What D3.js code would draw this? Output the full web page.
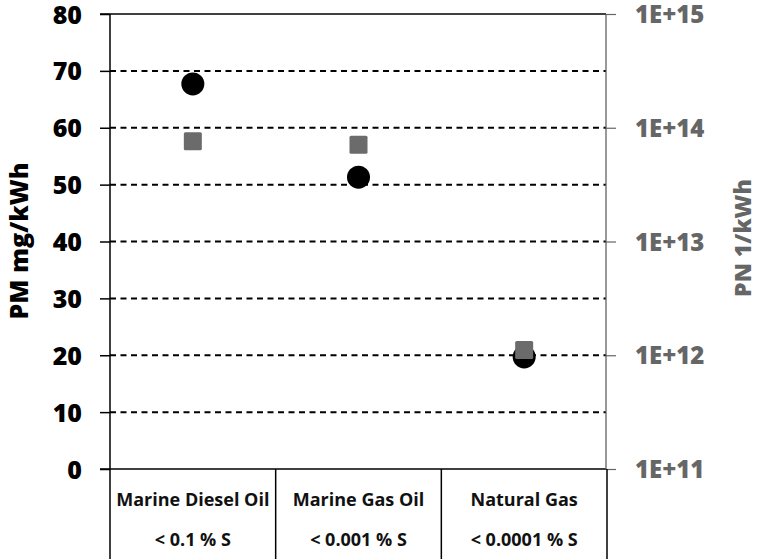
<!DOCTYPE html>
<html>
<head>
<meta charset="utf-8">
<script src="https://d3js.org/d3.v7.min.js"></script>
<style>
  html, body { margin: 0; padding: 0; background: #fff; }
  svg { display: block; font-family: "Open Sans", Lato, sans-serif; font-weight: 800; }
</style>
</head>
<body>
<svg id="chart" width="759" height="559"></svg>
<script>
const categories = ["Marine Diesel Oil", "Marine Gas Oil", "Natural Gas"];
const sulfur = ["< 0.1 % S", "< 0.001 % S", "< 0.0001 % S"];
const pmValues = [67.7, 51.3, 19.7];          // mg/kWh, left axis
const pnValues = [7.6e13, 7.1e13, 1.11e12];   // 1/kWh, right axis (log)
const leftTicks = [0, 10, 20, 30, 40, 50, 60, 70, 80];
const rightTicks = [1e11, 1e12, 1e13, 1e14, 1e15];

const svg = d3.select("#chart");
const L = 110, R = 606, T = 14, B = 469, BOT = 559;
const FONT = "'Open Sans', Lato, sans-serif";

const x = d3.scaleBand().domain(categories).range([L, R + 1]);
const y = d3.scaleLinear().domain([0, 80]).range([B, T]);
const yR = d3.scaleLog().domain([1e11, 1e15]).range([B, T]);

// dashed gridlines
svg.append("g").selectAll("line")
  .data(leftTicks.filter(d => d > 0 && d < 80))
  .join("line")
  .attr("x1", L).attr("x2", R)
  .attr("y1", d => y(d)).attr("y2", d => y(d))
  .attr("stroke", "#000").attr("stroke-width", 2)
  .attr("stroke-dasharray", "6,4.5");

// top border
svg.append("line").attr("x1", L - 10).attr("x2", R).attr("y1", T).attr("y2", T)
  .attr("stroke", "#000").attr("stroke-width", 1.5);
// baseline
svg.append("line").attr("x1", L - 10).attr("x2", R).attr("y1", B).attr("y2", B)
  .attr("stroke", "#000").attr("stroke-width", 1.5);

// left axis
const gL = svg.append("g").attr("transform", `translate(${L},0)`)
  .call(d3.axisLeft(y).tickValues(leftTicks).tickSize(10).tickSizeOuter(0).tickPadding(18));
gL.select(".domain").remove();
gL.selectAll(".tick line").attr("stroke", "#000").attr("stroke-width", 1.5);
gL.selectAll(".tick text").attr("fill", "#000").attr("font-size", 25)
  .attr("font-family", FONT).attr("font-weight", 800).attr("dy", "0.36em");

// right axis
const gR = svg.append("g").attr("transform", `translate(${R},0)`)
  .call(d3.axisRight(yR).tickValues(rightTicks).tickSize(10).tickSizeOuter(0).tickPadding(19)
    .tickFormat(d => "1E+" + Math.round(Math.log10(d))));
gR.select(".domain").remove();
gR.selectAll(".tick line").attr("stroke", "#666").attr("stroke-width", 1.2);
gR.selectAll(".tick text").attr("fill", "#666").attr("font-size", 24)
  .attr("font-family", FONT).attr("font-weight", 800).attr("dy", "0.36em");

// vertical axis lines
svg.append("line").attr("x1", L).attr("x2", L).attr("y1", T).attr("y2", BOT)
  .attr("stroke", "#000").attr("stroke-width", 1.5);
svg.append("line").attr("x1", R).attr("x2", R).attr("y1", T).attr("y2", B)
  .attr("stroke", "#555").attr("stroke-width", 1.2);

// category table separators
svg.append("g").selectAll("line")
  .data(categories.slice(1).map(c => x(c)).concat([x(categories[2]) + x.bandwidth()]))
  .join("line")
  .attr("x1", d => d).attr("x2", d => d)
  .attr("y1", B).attr("y2", BOT)
  .attr("stroke", "#000").attr("stroke-width", 1.5);

// category labels
const cat = svg.append("g").attr("font-weight", 700);
cat.selectAll("text.name").data(categories).join("text")
  .attr("class", "name")
  .attr("x", d => x(d) + x.bandwidth() / 2).attr("y", 506)
  .attr("text-anchor", "middle").attr("font-size", 18).attr("font-weight", 700).attr("fill", "#111")
  .text(d => d);
cat.selectAll("text.s").data(sulfur).join("text")
  .attr("class", "s")
  .attr("x", (d, i) => x(categories[i]) + x.bandwidth() / 2).attr("y", 546)
  .attr("text-anchor", "middle").attr("font-size", 18).attr("font-weight", 700).attr("fill", "#111")
  .text(d => d);

// PM circles
svg.append("g").selectAll("circle").data(pmValues).join("circle")
  .attr("cx", (d, i) => x(categories[i]) + x.bandwidth() / 2)
  .attr("cy", d => y(d))
  .attr("r", 11.5)
  .attr("fill", "#000");

// PN squares
const s = 18;
svg.append("g").selectAll("rect").data(pnValues).join("rect")
  .attr("x", (d, i) => x(categories[i]) + x.bandwidth() / 2 - s / 2)
  .attr("y", d => yR(d) - s / 2)
  .attr("width", s).attr("height", s).attr("rx", 1.5)
  .attr("fill", "#6b6b6b");

// axis titles
svg.append("text")
  .attr("transform", `translate(28,241) rotate(-90)`)
  .attr("text-anchor", "middle").attr("font-size", 25).attr("fill", "#000")
  .text("PM mg/kWh");
svg.append("text")
  .attr("transform", `translate(751,238) rotate(-90)`)
  .attr("text-anchor", "middle").attr("font-size", 23).attr("fill", "#666")
  .text("PN 1/kWh");
</script>
</body>
</html>
